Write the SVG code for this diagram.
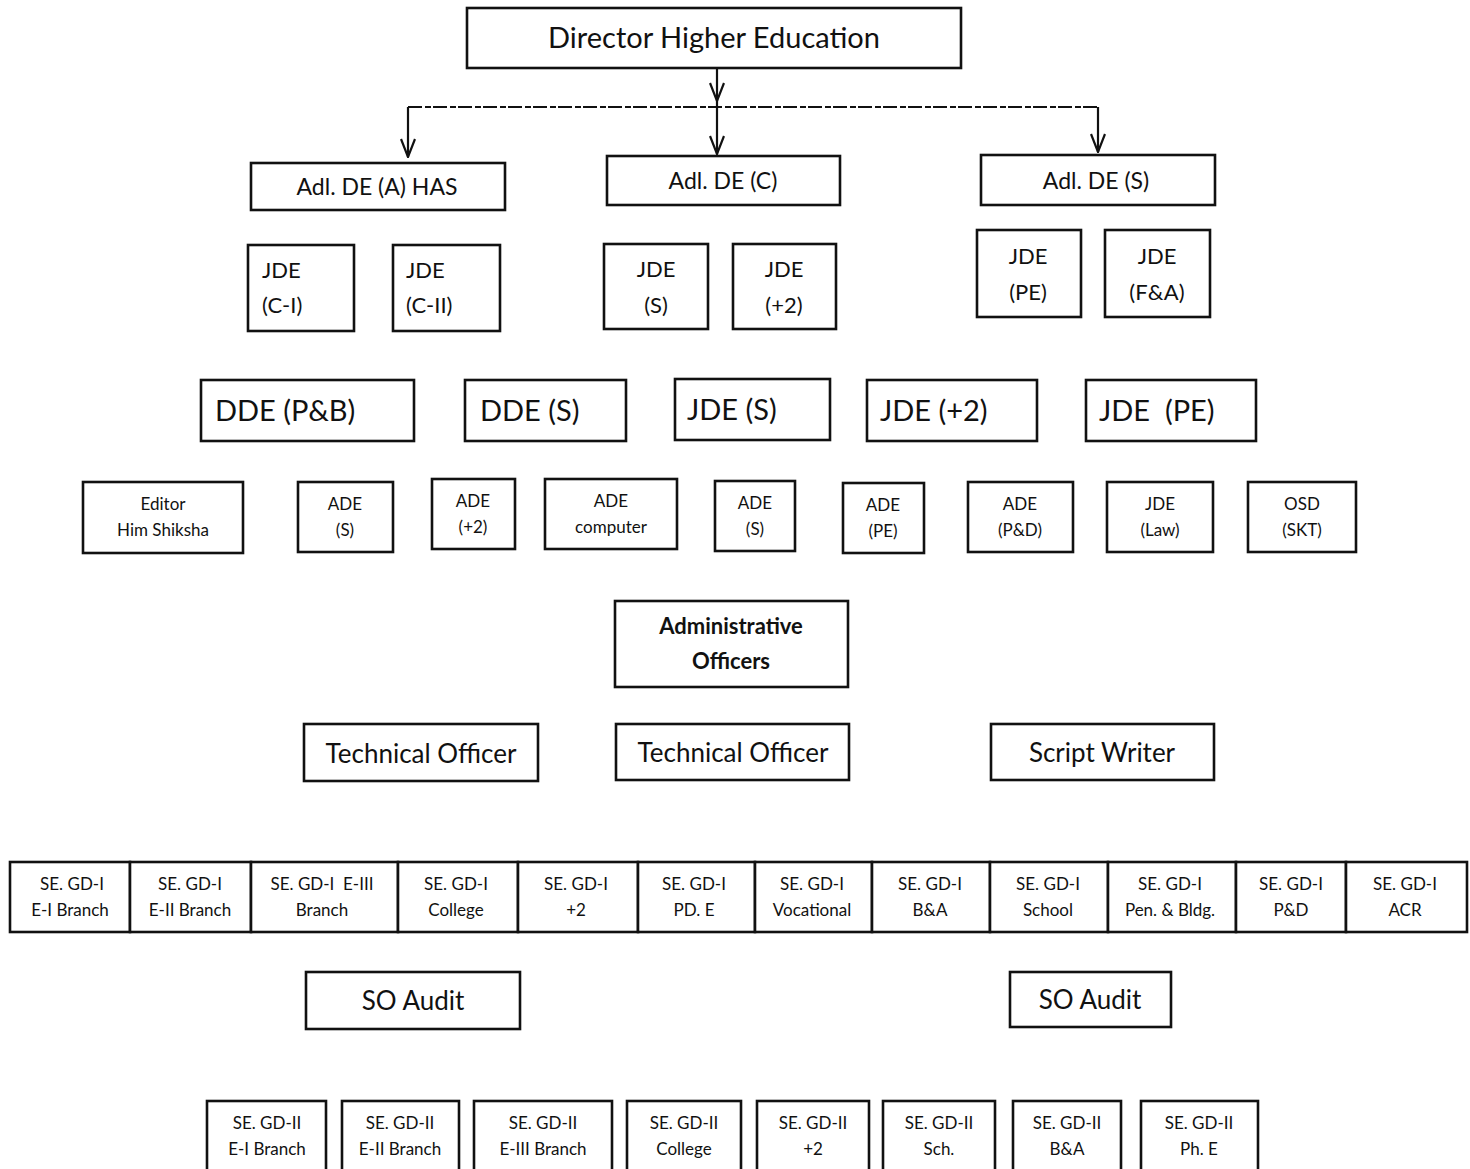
<svg xmlns="http://www.w3.org/2000/svg" width="1470" height="1169" viewBox="0 0 1470 1169">
  <defs>
    <marker id="arrow" viewBox="0 0 20 16" refX="19" refY="8" markerWidth="20" markerHeight="16" markerUnits="userSpaceOnUse" orient="auto">
      <path d="M1,1 L19,8 L1,15" fill="none" stroke="#111" stroke-width="2.2"/>
    </marker>
    <style>
      rect { fill: #fff; stroke: #111; stroke-width: 2.6; }
      text { font-family: Lato, "Liberation Sans", sans-serif; fill: #111; text-anchor: middle; }
      .t29 { font-size: 29px; }
      .t26 { font-size: 26px; }
      .t23 { font-size: 23px; }
      .t22 { font-size: 22px; }
      .t17 { font-size: 17px; }
      .b { font-weight: bold; }
      .left { text-anchor: start; }
      .conn { fill: none; stroke: #111; stroke-width: 2.2; }
      .dash { fill: none; stroke: #111; stroke-width: 2; stroke-dasharray: 14 3 6 2; }
    </style>
  </defs>

  <rect x="0" y="0" width="1470" height="1169" style="fill:#fff;stroke:none"/>

  <!-- connectors from the director to the three additional directors -->
  <g id="connectors">
    <line class="conn" x1="717" y1="68" x2="717" y2="101" marker-end="url(#arrow)"/>
    <line class="dash" x1="408" y1="107" x2="1098" y2="107"/>
    <line class="conn" x1="408" y1="107" x2="408" y2="157" marker-end="url(#arrow)"/>
    <line class="conn" x1="717" y1="101" x2="717" y2="154" marker-end="url(#arrow)"/>
    <line class="conn" x1="1098" y1="107" x2="1098" y2="152" marker-end="url(#arrow)"/>
  </g>

  <g id="director">
    <rect x="467" y="8" width="494" height="60"/>
    <text class="t29" x="714" y="48">Director Higher Education</text>
  </g>

  <!-- additional directors -->
  <g id="adl-a"><rect x="251" y="163" width="254" height="47"/><text class="t23" x="377" y="195">Adl. DE (A) HAS</text></g>
  <g id="adl-c"><rect x="607" y="156" width="233" height="49"/><text class="t23" x="723" y="189">Adl. DE (C)</text></g>
  <g id="adl-s"><rect x="981" y="155" width="234" height="50"/><text class="t23" x="1096" y="189">Adl. DE (S)</text></g>

  <!-- joint directors -->
  <g id="jde-c1"><rect x="248" y="245" width="106" height="86"/><text class="t22 left" x="262" y="278">JDE</text><text class="t22 left" x="262" y="313">(C-I)</text></g>
  <g id="jde-c2"><rect x="393" y="245" width="107" height="86"/><text class="t22 left" x="406" y="278">JDE</text><text class="t22 left" x="406" y="313">(C-II)</text></g>
  <g id="jde-s"><rect x="604" y="244" width="104" height="85"/><text class="t22" x="656" y="277">JDE</text><text class="t22" x="656" y="313">(S)</text></g>
  <g id="jde-plus2"><rect x="733" y="244" width="103" height="85"/><text class="t22" x="784" y="277">JDE</text><text class="t22" x="784" y="313">(+2)</text></g>
  <g id="jde-pe"><rect x="977" y="230" width="104" height="87"/><text class="t22" x="1028" y="264">JDE</text><text class="t22" x="1028" y="300">(PE)</text></g>
  <g id="jde-fa"><rect x="1105" y="230" width="105" height="87"/><text class="t22" x="1157" y="264">JDE</text><text class="t22" x="1157" y="300">(F&amp;A)</text></g>

  <!-- deputy / joint directors, large row -->
  <g id="dde-pb"><rect x="201" y="380" width="213" height="61"/><text class="t29 left" x="215" y="421">DDE (P&amp;B)</text></g>
  <g id="dde-s"><rect x="465" y="380" width="161" height="61"/><text class="t29 left" x="480" y="421">DDE (S)</text></g>
  <g id="jde-s2"><rect x="675" y="379" width="155" height="61"/><text class="t29 left" x="687" y="420">JDE (S)</text></g>
  <g id="jde-plus2-2"><rect x="867" y="380" width="170" height="61"/><text class="t29 left" x="880" y="421">JDE (+2)</text></g>
  <g id="jde-pe2"><rect x="1086" y="380" width="170" height="61"/><text class="t29 left" x="1099" y="421">JDE&#160;&#160;(PE)</text></g>

  <!-- assistant directors and others -->
  <g id="editor"><rect x="83" y="482" width="160" height="71"/><text class="t17" x="163" y="510">Editor</text><text class="t17" x="163" y="536">Him Shiksha</text></g>
  <g id="ade-s"><rect x="298" y="482" width="95" height="70"/><text class="t17" x="345" y="510">ADE</text><text class="t17" x="345" y="536">(S)</text></g>
  <g id="ade-plus2"><rect x="432" y="479" width="83" height="70"/><text class="t17" x="473" y="507">ADE</text><text class="t17" x="473" y="533">(+2)</text></g>
  <g id="ade-computer"><rect x="545" y="479" width="132" height="70"/><text class="t17" x="611" y="507">ADE</text><text class="t17" x="611" y="533">computer</text></g>
  <g id="ade-s2"><rect x="715" y="481" width="80" height="70"/><text class="t17" x="755" y="509">ADE</text><text class="t17" x="755" y="535">(S)</text></g>
  <g id="ade-pe"><rect x="843" y="483" width="81" height="70"/><text class="t17" x="883" y="511">ADE</text><text class="t17" x="883" y="537">(PE)</text></g>
  <g id="ade-pd"><rect x="968" y="482" width="105" height="70"/><text class="t17" x="1020" y="510">ADE</text><text class="t17" x="1020" y="536">(P&amp;D)</text></g>
  <g id="jde-law"><rect x="1107" y="482" width="106" height="70"/><text class="t17" x="1160" y="510">JDE</text><text class="t17" x="1160" y="536">(Law)</text></g>
  <g id="osd-skt"><rect x="1248" y="482" width="108" height="70"/><text class="t17" x="1302" y="510">OSD</text><text class="t17" x="1302" y="536">(SKT)</text></g>

  <g id="admin-officers"><rect x="615" y="601" width="233" height="86"/><text class="t22 b" x="731" y="634">Administrative</text><text class="t22 b" x="731" y="669">Officers</text></g>

  <g id="tech-officer-1"><rect x="304" y="724" width="234" height="57"/><text class="t26" x="421" y="763">Technical Officer</text></g>
  <g id="tech-officer-2"><rect x="616" y="724" width="233" height="56"/><text class="t26" x="733" y="762">Technical Officer</text></g>
  <g id="script-writer"><rect x="991" y="724" width="223" height="56"/><text class="t26" x="1102" y="762">Script Writer</text></g>

  <!-- section officers, grade I strip -->
  <g id="se-gd1-e1"><rect x="10" y="862" width="120" height="70"/><text class="t17" x="72" y="890">SE. GD-I</text><text class="t17" x="70" y="916">E-I Branch</text></g>
  <g id="se-gd1-e2"><rect x="130" y="862" width="121" height="70"/><text class="t17" x="190" y="890">SE. GD-I</text><text class="t17" x="190" y="916">E-II Branch</text></g>
  <g id="se-gd1-e3"><rect x="251" y="862" width="147" height="70"/><text class="t17" x="322" y="890">SE. GD-I&#160;&#160;E-III</text><text class="t17" x="322" y="916">Branch</text></g>
  <g id="se-gd1-college"><rect x="398" y="862" width="120" height="70"/><text class="t17" x="456" y="890">SE. GD-I</text><text class="t17" x="456" y="916">College</text></g>
  <g id="se-gd1-plus2"><rect x="518" y="862" width="120" height="70"/><text class="t17" x="576" y="890">SE. GD-I</text><text class="t17" x="576" y="916">+2</text></g>
  <g id="se-gd1-pde"><rect x="638" y="862" width="117" height="70"/><text class="t17" x="694" y="890">SE. GD-I</text><text class="t17" x="694" y="916">PD. E</text></g>
  <g id="se-gd1-voc"><rect x="755" y="862" width="117" height="70"/><text class="t17" x="812" y="890">SE. GD-I</text><text class="t17" x="812" y="916">Vocational</text></g>
  <g id="se-gd1-ba"><rect x="872" y="862" width="118" height="70"/><text class="t17" x="930" y="890">SE. GD-I</text><text class="t17" x="930" y="916">B&amp;A</text></g>
  <g id="se-gd1-school"><rect x="990" y="862" width="118" height="70"/><text class="t17" x="1048" y="890">SE. GD-I</text><text class="t17" x="1048" y="916">School</text></g>
  <g id="se-gd1-pen"><rect x="1108" y="862" width="128" height="70"/><text class="t17" x="1170" y="890">SE. GD-I</text><text class="t17" x="1170" y="916">Pen. &amp; Bldg.</text></g>
  <g id="se-gd1-pd"><rect x="1236" y="862" width="110" height="70"/><text class="t17" x="1291" y="890">SE. GD-I</text><text class="t17" x="1291" y="916">P&amp;D</text></g>
  <g id="se-gd1-acr"><rect x="1346" y="862" width="121" height="70"/><text class="t17" x="1405" y="890">SE. GD-I</text><text class="t17" x="1405" y="916">ACR</text></g>

  <g id="so-audit-1"><rect x="306" y="972" width="214" height="57"/><text class="t26" x="413" y="1010">SO Audit</text></g>
  <g id="so-audit-2"><rect x="1010" y="972" width="161" height="55"/><text class="t26" x="1090" y="1009">SO Audit</text></g>

  <!-- section officers, grade II -->
  <g id="se-gd2-e1"><rect x="207" y="1101" width="119" height="72"/><text class="t17" x="267" y="1129">SE. GD-II</text><text class="t17" x="267" y="1155">E-I Branch</text></g>
  <g id="se-gd2-e2"><rect x="342" y="1101" width="117" height="72"/><text class="t17" x="400" y="1129">SE. GD-II</text><text class="t17" x="400" y="1155">E-II Branch</text></g>
  <g id="se-gd2-e3"><rect x="474" y="1101" width="138" height="72"/><text class="t17" x="543" y="1129">SE. GD-II</text><text class="t17" x="543" y="1155">E-III Branch</text></g>
  <g id="se-gd2-college"><rect x="627" y="1101" width="114" height="72"/><text class="t17" x="684" y="1129">SE. GD-II</text><text class="t17" x="684" y="1155">College</text></g>
  <g id="se-gd2-plus2"><rect x="757" y="1101" width="112" height="72"/><text class="t17" x="813" y="1129">SE. GD-II</text><text class="t17" x="813" y="1155">+2</text></g>
  <g id="se-gd2-sch"><rect x="883" y="1101" width="112" height="72"/><text class="t17" x="939" y="1129">SE. GD-II</text><text class="t17" x="939" y="1155">Sch.</text></g>
  <g id="se-gd2-ba"><rect x="1013" y="1101" width="108" height="72"/><text class="t17" x="1067" y="1129">SE. GD-II</text><text class="t17" x="1067" y="1155">B&amp;A</text></g>
  <g id="se-gd2-phe"><rect x="1141" y="1101" width="117" height="72"/><text class="t17" x="1199" y="1129">SE. GD-II</text><text class="t17" x="1199" y="1155">Ph. E</text></g>
</svg>
